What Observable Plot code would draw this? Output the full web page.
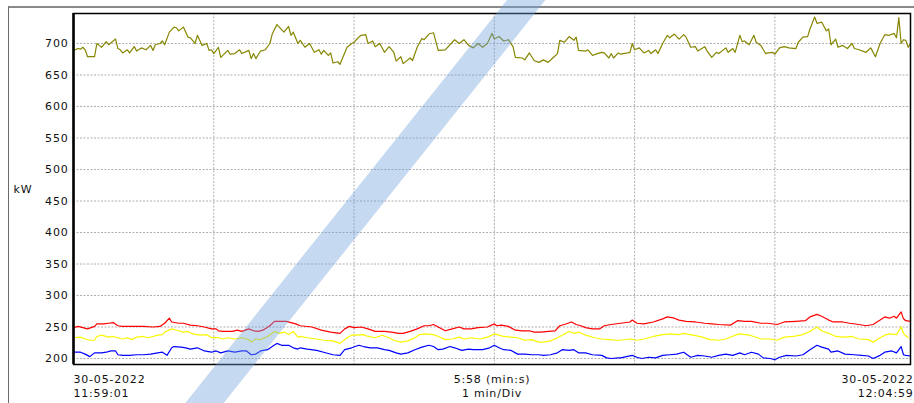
<!DOCTYPE html>
<html>
<head>
<meta charset="utf-8">
<script src="https://cdn.jsdelivr.net/npm/d3@7"></script>
<script src="https://cdn.jsdelivr.net/npm/@observablehq/plot@0.6"></script>
<style>
  html, body { margin: 0; padding: 0; background: #fff; }
  #wrap { position: relative; width: 914px; height: 403px; overflow: hidden; background: #fff; }
  #outer { position: absolute; left: 8px; top: 6px; right: -4px; bottom: -4px;
           border-top: 2px solid #8a8a8a; border-left: 1.5px solid #6a6a6a; }
  #chart { position: absolute; left: 0; top: 0; }
  #chart svg text { letter-spacing: 0.8px; }
  #band { position: absolute; width: 30px; height: 700px; left: 350px; top: -148.5px;
          background: rgba(110,160,220,0.4); transform: rotate(38.6deg); pointer-events: none; }
</style>
</head>
<body>
<div id="wrap">
  <div id="outer"></div>
  <div id="chart"></div>
  <div id="band"></div>
</div>
<script>
// Time in seconds after 30-05-2022 11:59:01, values in kW
const total = [[0,689],[2,692],[3,691],[4,694],[5,690],[6,679],[9,679],[10,700],[11,697],[12,694],[14,703],[15,698],[18,707],[19,692],[20,690],[21,685],[23,690],[24,685],[26,695],[27,688],[29,693],[31,690],[33,697],[34,689],[35,698],[37,700],[38,704],[39,698],[41,718],[42,722],[43,726],[44,725],[45,720],[47,726],[49,710],[50,709],[52,700],[53,713],[55,697],[57,700],[58,689],[59,690],[60,684],[62,694],[63,678],[66,689],[67,683],[69,684],[71,690],[72,684],[75,689],[76,676],[77,684],[78,676],[80,688],[82,690],[84,700],[85,715],[87,730],[88,726],[90,718],[92,727],[93,713],[94,718],[96,700],[97,705],
[99,694],[101,700],[103,686],[105,690],[106,683],[107,689],[109,681],[110,685],[111,669],[113,671],[114,667],[117,694],[119,700],[120,702],[122,710],[123,713],[125,714],[126,700],[128,704],[129,695],[131,700],[133,686],[135,695],[137,686],[138,672],[140,679],[141,668],[144,677],[145,673],[147,694],[149,708],[150,706],[152,715],[154,717],[156,689],[159,690],[162,702],[163,706],[165,700],[167,706],[169,697],[171,693],[173,700],[175,694],[177,700],[179,716],[180,707],[182,711],[184,704],[186,706],[188,695],[189,678],[192,677],[193,674],[195,685],[197,673],[199,670],[201,674],[203,670],[205,677],[207,684],[208,705],[210,702],[212,711],[214,705],[215,710],[216,689],[219,688],[220,690],[222,681],[224,684],[226,686],
[227,685],[229,677],[230,684],[231,677],[233,685],[234,683],[237,685],[238,686],[239,700],[240,690],[242,693],[244,685],[246,689],[247,684],[249,690],[250,684],[252,700],[254,713],[255,709],[257,715],[259,707],[261,714],[262,710],[264,694],[266,695],[267,688],[270,695],[271,688],[273,678],[275,686],[276,684],[279,693],[280,686],[282,692],[283,686],[285,713],[286,703],[287,704],[289,698],[291,713],[292,702],[294,697],[296,684],[297,685],[299,686],[300,683],[302,693],[304,695],[306,693],[309,692],[310,702],[312,710],[314,711],[315,723],[317,742],[318,732],[320,734],[322,720],[323,723],[324,698],[326,707],[327,694],[329,697],[331,692],[333,700],[334,692],[336,690],[339,686],[341,693],[343,679],[345,700],[347,714],[349,713],[351,716],[352,709],[353,741],[354,700],[355,706],[356,705],[357,694],[358,700]];

const phaseL1 = [[0,249],[2,251],[4,249],[6,247],[9,251],[10,255],[13,255],[15,256],[17,257],[19,252],[21,251],[26,251],[30,251],[34,250],[37,251],[39,256],[41,264],[42,258],[45,256],[47,256],[50,253],[53,252],[56,250],[59,247],[61,247],[62,244],[64,243],[66,243],[68,243],[70,245],[72,243],[75,247],[77,244],[79,243],[81,245],[84,252],[86,259],[89,259],[91,259],[93,257],[95,255],[97,252],[102,250],[106,245],[110,242],[114,240],[116,247],[118,251],[120,249],[123,250],[126,247],[129,243],[133,243],[136,242],[139,240],[141,240],[144,243],[147,247],[150,252],[152,252],[154,254],[156,250],[159,244],[162,247],[165,250],[167,247],[170,247],[173,249],[177,250],[180,255],[181,252],[183,253],[186,251],[189,245],[192,244],[195,244],[197,242],[200,242],[203,243],[206,244],[208,252],[210,254],[213,258],[215,254],[217,252],[219,249],[222,247],[225,247],[227,252],[230,254],[234,256],[238,258],[239,261],[241,256],[244,255],[248,258],[252,263],[254,266],[257,264],[259,261],[262,259],[266,258],[270,256],[273,255],[276,254],[281,253],[284,260],[287,259],[290,259],[294,256],[297,256],[301,254],[304,258],[309,259],[313,260],[315,266],[318,270],[320,267],[323,261],[325,258],[329,258],[332,256],[336,254],[339,252],[342,254],[345,261],[347,266],[349,264],[351,267],[352,264],[354,274],[355,263],[356,260],[358,259]];

const phaseL2 = [[0,233],[3,234],[5,231],[7,229],[9,229],[10,235],[12,237],[15,234],[17,235],[19,233],[21,231],[23,233],[25,230],[27,234],[30,235],[32,233],[34,235],[36,237],[38,238],[39,242],[42,247],[43,246],[45,244],[47,242],[49,243],[51,239],[54,237],[57,238],[59,233],[62,233],[64,231],[66,233],[69,231],[72,233],[75,230],[76,226],[78,231],[80,230],[83,235],[86,243],[88,240],[90,242],[92,238],[94,243],[96,234],[97,235],[100,233],[104,231],[107,229],[111,228],[114,224],[117,233],[119,237],[121,237],[124,238],[126,235],[129,233],[132,237],[135,233],[137,229],[140,226],[143,228],[146,233],[148,238],[151,239],[154,238],[156,235],[159,230],[162,231],[165,234],[167,231],[170,233],[174,231],[177,234],[180,239],[182,237],[184,235],[187,234],[190,233],[193,229],[196,230],[199,226],[201,226],[204,228],[207,233],[210,239],[212,243],[214,240],[216,242],[219,237],[223,233],[226,231],[229,230],[232,229],[234,229],[238,231],[241,229],[244,231],[248,235],[252,238],[255,239],[259,238],[261,240],[265,237],[269,234],[272,230],[276,229],[279,231],[283,237],[285,239],[289,237],[291,235],[294,231],[298,231],[301,229],[304,234],[308,235],[312,238],[315,243],[318,250],[320,244],[323,240],[326,235],[330,234],[333,235],[336,231],[340,230],[342,226],[345,233],[347,237],[349,239],[352,238],[354,250],[355,240],[357,233]];

const phaseL3 = [[0,210],[3,210],[5,207],[7,203],[9,209],[12,209],[14,210],[16,212],[18,212],[19,206],[21,205],[24,205],[27,206],[30,206],[33,207],[36,209],[38,210],[40,205],[42,217],[43,219],[46,218],[48,217],[50,215],[53,217],[56,212],[59,210],[61,212],[63,209],[66,212],[69,210],[72,212],[74,212],[76,206],[78,207],[80,212],[83,214],[85,219],[87,224],[89,221],[92,221],[94,217],[96,215],[97,217],[100,215],[104,213],[107,210],[111,206],[114,205],[116,214],[119,217],[122,221],[124,219],[127,217],[130,217],[133,214],[135,213],[138,209],[140,207],[143,209],[146,214],[149,218],[152,221],[154,219],[156,214],[158,215],[161,219],[163,217],[166,213],[169,215],[171,214],[175,214],[178,217],[180,221],[182,217],[184,214],[187,213],[190,207],[193,207],[196,206],[199,206],[201,205],[204,206],[207,209],[209,214],[212,213],[214,214],[216,209],[219,209],[222,206],[226,205],[228,201],[230,200],[233,201],[234,201],[239,205],[241,202],[243,200],[246,202],[249,201],[252,205],[255,206],[258,207],[261,210],[264,202],[267,205],[270,204],[273,202],[276,205],[279,207],[282,205],[285,209],[287,206],[290,210],[293,207],[295,201],[298,200],[300,198],[302,202],[305,205],[309,204],[312,206],[315,214],[318,221],[320,218],[323,215],[324,210],[327,212],[330,207],[334,206],[337,205],[340,204],[342,200],[345,205],[347,210],[350,212],[352,209],[354,219],[355,206],[356,205],[358,204]];

const seriesNames = ["Total", "L1", "L2", "L3"];
const seriesColors = ["#868600", "#ff0000", "#f8f800", "#0000ff"];
const yTicks = [200, 250, 300, 350, 400, 450, 500, 550, 600, 650, 700];
const divisions = [60, 120, 180, 240, 300];   // 1 min/Div
const timeSpan = [0, 358];                     // 5:58
const yUnit = "kW";
const startLabel = "30-05-2022\n11:59:01";
const midLabel = "5:58 (min:s)\n1 min/Div";
const endLabel = "30-05-2022\n12:04:59";

const seriesData = [total, phaseL1, phaseL2, phaseL3];
const rows = seriesData.flatMap((arr, i) => arr.map(([t, v]) => ({series: seriesNames[i], t, v})));

const grid = {stroke: "#b0b0b0", strokeWidth: 1, strokeDasharray: "2,1.5"};
const labelOpts = {lineAnchor: "top", dy: 8.2, lineHeight: 1.27, fill: "#111"};

const chart = Plot.plot({
  width: 914,
  height: 403,
  marginLeft: 73,
  marginRight: 4,
  marginTop: 13,
  marginBottom: 39,
  style: {fontFamily: "DejaVu Sans", fontSize: "11px", background: "transparent", color: "#111"},
  x: {domain: timeSpan, axis: null},
  y: {domain: [190.5, 747.6], ticks: yTicks, tickSize: 0, tickPadding: 5, label: null},
  color: {domain: seriesNames, range: seriesColors},
  marks: [
    Plot.ruleY(yTicks, grid),
    Plot.ruleX(divisions, grid),
    Plot.line(rows, {x: "t", y: "v", z: "series", stroke: "series", strokeWidth: 1.2}),
    Plot.frame({stroke: "#000", strokeWidth: 1.5}),
    Plot.ruleX([timeSpan[0]], {stroke: "#000", strokeWidth: 2.5}),
    Plot.text([yUnit], {text: d => d, frameAnchor: "left", dx: -60, textAnchor: "start", fill: "#111"}),
    Plot.text([startLabel], {text: d => d, frameAnchor: "bottom-left", textAnchor: "start", ...labelOpts}),
    Plot.text([midLabel], {text: d => d, frameAnchor: "bottom", textAnchor: "middle", ...labelOpts}),
    Plot.text([endLabel], {text: d => d, frameAnchor: "bottom-right", textAnchor: "end", dx: 3, ...labelOpts})
  ]
});
document.getElementById("chart").appendChild(chart);
</script>
</body>
</html>
